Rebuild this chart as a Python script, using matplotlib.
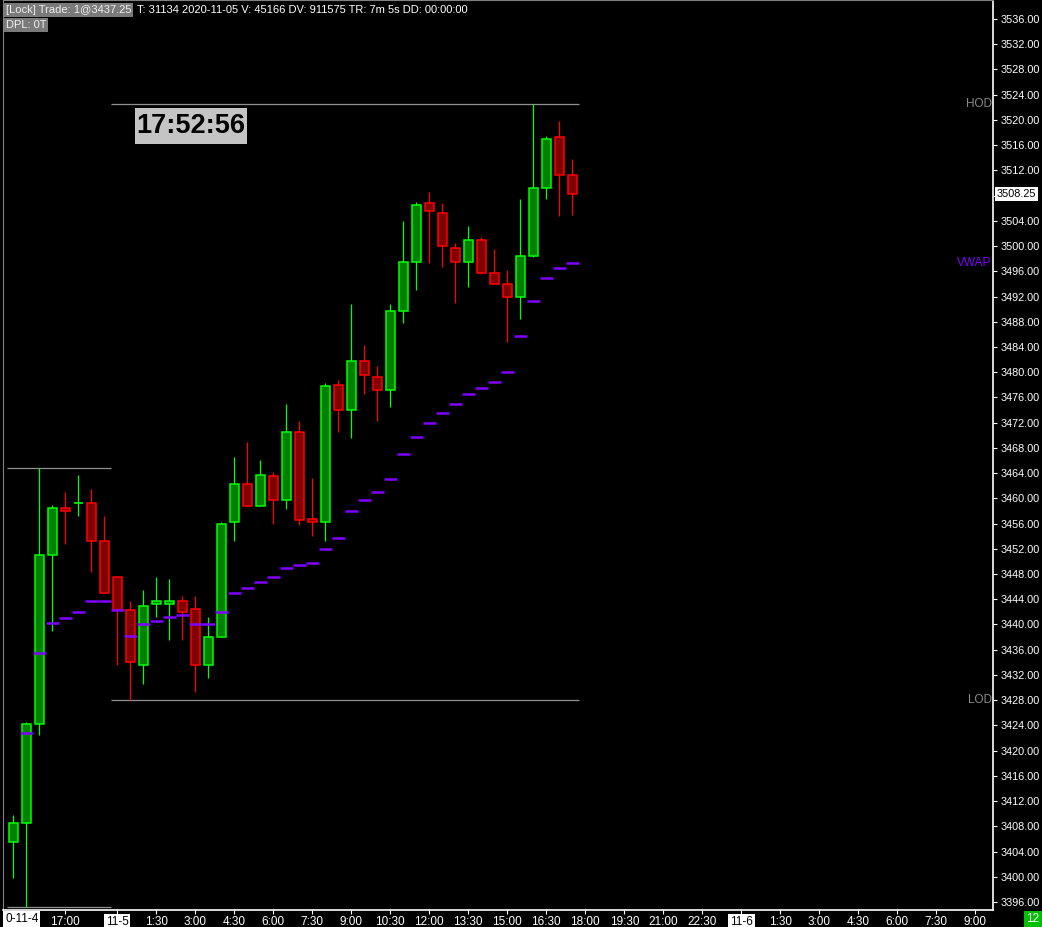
import numpy as np
import matplotlib
matplotlib.use('Agg')
import matplotlib.pyplot as plt
from matplotlib.patches import Rectangle
from matplotlib.transforms import blended_transform_factory

# 30 minute bars, ES futures, 2020-11-04 / 2020-11-05
opens = [3405.5, 3408.5, 3424.25, 3451.0, 3458.5, 3459.25, 3459.25, 3453.25,
         3447.5, 3442.25, 3433.5, 3443.25, 3443.25, 3443.75, 3442.5, 3433.5,
         3438.0, 3456.25, 3462.25, 3458.75, 3463.5, 3459.75, 3470.5, 3456.75,
         3456.25, 3478.0, 3474.0, 3481.75, 3479.25, 3477.25, 3489.75, 3497.5,
         3506.75, 3505.25, 3499.75, 3497.5, 3501.0, 3495.75, 3494.0, 3492.0,
         3498.5, 3509.25, 3517.25, 3511.25]
highs = [3409.75, 3424.5, 3464.75, 3459.0, 3461.0, 3463.75, 3461.5, 3457.25,
         3447.5, 3443.75, 3445.5, 3447.5, 3447.25, 3444.5, 3444.5, 3441.25,
         3456.25, 3466.5, 3469.0, 3466.0, 3464.25, 3475.0, 3472.25, 3463.25,
         3478.25, 3478.75, 3490.75, 3484.25, 3481.0, 3490.75, 3504.0, 3507.0,
         3508.5, 3506.75, 3500.5, 3503.25, 3501.5, 3499.5, 3496.25, 3507.5,
         3522.5, 3517.5, 3519.75, 3513.75]
lows = [3399.75, 3395.25, 3422.5, 3439.0, 3452.75, 3457.25, 3448.25, 3445.0,
        3433.5, 3428.0, 3430.5, 3441.25, 3437.5, 3437.5, 3429.25, 3431.5,
        3438.0, 3453.25, 3458.75, 3458.75, 3456.0, 3458.25, 3455.75, 3454.0,
        3453.25, 3470.5, 3469.5, 3476.5, 3472.25, 3474.5, 3487.75, 3493.0,
        3497.25, 3496.75, 3491.0, 3493.5, 3495.5, 3494.0, 3484.75, 3488.5,
        3498.25, 3507.5, 3504.75, 3505.0]
closes = [3408.5, 3424.25, 3451.0, 3458.5, 3458.0, 3459.25, 3453.25, 3445.0,
          3442.25, 3434.0, 3443.0, 3443.75, 3443.75, 3442.0, 3433.5, 3438.0,
          3456.0, 3462.25, 3458.75, 3463.75, 3459.75, 3470.5, 3456.5, 3456.25,
          3477.75, 3474.0, 3481.75, 3479.5, 3477.25, 3489.75, 3497.5, 3506.5,
          3505.5, 3500.0, 3497.5, 3501.0, 3495.75, 3494.0, 3492.0, 3498.5,
          3509.25, 3517.0, 3511.25, 3508.25]
vwap = [np.nan, 3422.75, 3435.5, 3440.25, 3441.0, 3442.0, 3443.75, 3443.75,
        3442.25, 3438.25, 3440.0, 3440.5, 3441.25, 3441.5, 3440.0, 3440.0,
        3442.0, 3445.0, 3445.75, 3446.75, 3447.5, 3449.0, 3449.5, 3449.75,
        3452.0, 3453.75, 3458.0, 3459.75, 3461.0, 3463.0, 3467.0, 3469.75,
        3472.0, 3473.5, 3475.0, 3476.5, 3477.5, 3478.5, 3480.0, 3485.75,
        3491.25, 3495.0, 3496.5, 3497.25]

# sessions: first 8 bars belong to 11-4, the rest to 11-5
session_starts = [0, 8]

xtick_pos = [0, 4, 8, 11, 14, 17, 20, 23, 26, 29, 32, 35, 38, 41, 44, 47, 50,
             53, 56, 59, 62, 65, 68, 71, 74]
xtick_lab = ['0-11-4', '17:00', '11-5', '1:30', '3:00', '4:30', '6:00', '7:30',
             '9:00', '10:30', '12:00', '13:30', '15:00', '16:30', '18:00',
             '19:30', '21:00', '22:30', '11-6', '1:30', '3:00', '4:30', '6:00',
             '7:30', '9:00']
date_labels = ['0-11-4', '11-5', '11-6']

header = 'T: 31134 2020-11-05 V: 45166 DV: 911575 TR: 7m 5s DD: 00:00:00'
clock = '17:52:56'

fam = ['Liberation Sans', 'DejaVu Sans']
up_edge, up_fill = '#00ff00', '#008000'
dn_edge, dn_fill = '#ff0000', '#800000'
vwap_col = '#8000ff'

W, H = 1042, 927
fig = plt.figure(figsize=(W / 100, H / 100), dpi=100, facecolor='black')
ax = fig.add_axes([3 / W, 17 / H, 990 / W, 910 / H], facecolor='black')

n = len(opens)
for i in range(n):
    o, h, l, c = opens[i], highs[i], lows[i], closes[i]
    up = c >= o
    ec = up_edge if up else dn_edge
    fc = up_fill if up else dn_fill
    ax.vlines(i, l, h, color=ec, lw=0.9, zorder=2)
    if abs(c - o) < 1e-9:
        ax.hlines(o, i - 0.34, i + 0.34, color=ec, lw=1.2, zorder=3)
    else:
        ax.add_patch(Rectangle((i - 0.34, min(o, c)), 0.68, abs(c - o),
                               facecolor=fc, edgecolor=ec, lw=1.1, zorder=3))
    if not np.isnan(vwap[i]):
        ax.hlines(vwap[i], i - 0.5, i + 0.5, color=vwap_col, lw=1.8, zorder=4)

# session high / low lines
bounds = session_starts + [n]
for k in range(len(session_starts)):
    a, b = bounds[k], bounds[k + 1]
    hi = max(highs[a:b])
    lo = min(lows[a:b])
    ax.hlines([hi, lo], a - 0.5, b - 0.5, color='#909090', lw=0.9, zorder=1)

ax.set_xlim(-0.79, 75.36)
ax.set_ylim(3394.73, 3539.01)

tr = blended_transform_factory(ax.transAxes, ax.transData)
ax.text(0.9985, max(highs[8:]), 'HOD', transform=tr, ha='right', va='center',
        color='#8a8a8a', fontsize=8.5, family=fam)
ax.text(0.9985, min(lows[8:]), 'LOD', transform=tr, ha='right', va='center',
        color='#8a8a8a', fontsize=8.5, family=fam)
ax.text(0.9985, vwap[-1], 'VWAP', transform=tr, ha='right', va='center',
        color=vwap_col, fontsize=8.5, family=fam)

# price axis
yt = np.arange(3396, 3537, 4)
ylab = ['%.2f' % v for v in yt]
last = closes[-1]
for j, v in enumerate(yt):
    if abs(v - last) < 2:
        ylab[j] = ''
ax.yaxis.tick_right()
ax.set_yticks(yt)
ax.set_yticklabels(ylab, family=fam, fontsize=7.8)
ax.tick_params(axis='y', colors='white', length=3, width=0.8, pad=2.5)
ax.text(1.0035, last, '%.2f' % last, transform=tr, ha='left', va='center',
        color='black', fontsize=7.8, family=fam,
        bbox=dict(boxstyle='square,pad=0.15', facecolor='white', edgecolor='none'))

# time axis
labs = list(xtick_lab)
labs[0] = ''
ax.set_xticks(xtick_pos)
ax.set_xticklabels(labs, family=fam, fontsize=8.5)
ax.tick_params(axis='x', colors='white', length=3, width=0.8, pad=1.5)
for lab in ax.get_xticklabels():
    if lab.get_text() in date_labels:
        lab.set_color('black')
        lab.set_bbox(dict(boxstyle='square,pad=0.15', facecolor='white',
                          edgecolor='none'))
fig.text(5 / W, 1 - 919 / H, xtick_lab[0], color='black', fontsize=8.5,
         family=fam, ha='left', va='center',
         bbox=dict(boxstyle='square,pad=0.15', facecolor='white', edgecolor='none'))

for s in ['top', 'left']:
    ax.spines[s].set_color('#808080')
for s in ['right', 'bottom']:
    ax.spines[s].set_color('white')
    ax.spines[s].set_linewidth(1.2)

# header
fig.text(6 / W, 1 - 10 / H, '[Lock] Trade: 1@3437.25', color='#f0f0f0',
         fontsize=8, family=fam, va='center', ha='left',
         bbox=dict(boxstyle='square,pad=0.15', facecolor='#7a7a7a', edgecolor='none'))
fig.text(137 / W, 1 - 10 / H, header, color='white', fontsize=8,
         family=fam, va='center', ha='left')
fig.text(6 / W, 1 - 25 / H, 'DPL: 0T', color='#f0f0f0', fontsize=8,
         family=fam, va='center', ha='left',
         bbox=dict(boxstyle='square,pad=0.15', facecolor='#7a7a7a', edgecolor='none'))

# clock box
fig.patches.append(Rectangle((135 / W, 1 - 144 / H), 112 / W, 36 / H,
                             transform=fig.transFigure, facecolor='#c4c4c4',
                             edgecolor='none', zorder=5))
fig.text(191 / W, 1 - 126 / H, clock, color='black', fontsize=19.5,
         fontweight='bold', family=fam, ha='center', va='center', zorder=6)

# bar counter
fig.text(1033 / W, 1 - 919 / H, '12', color='white', fontsize=8.5,
         family=fam, ha='center', va='center',
         bbox=dict(boxstyle='square,pad=0.2', facecolor='#00c000', edgecolor='none'))

fig.savefig('out.png', dpi=100, facecolor='black')
